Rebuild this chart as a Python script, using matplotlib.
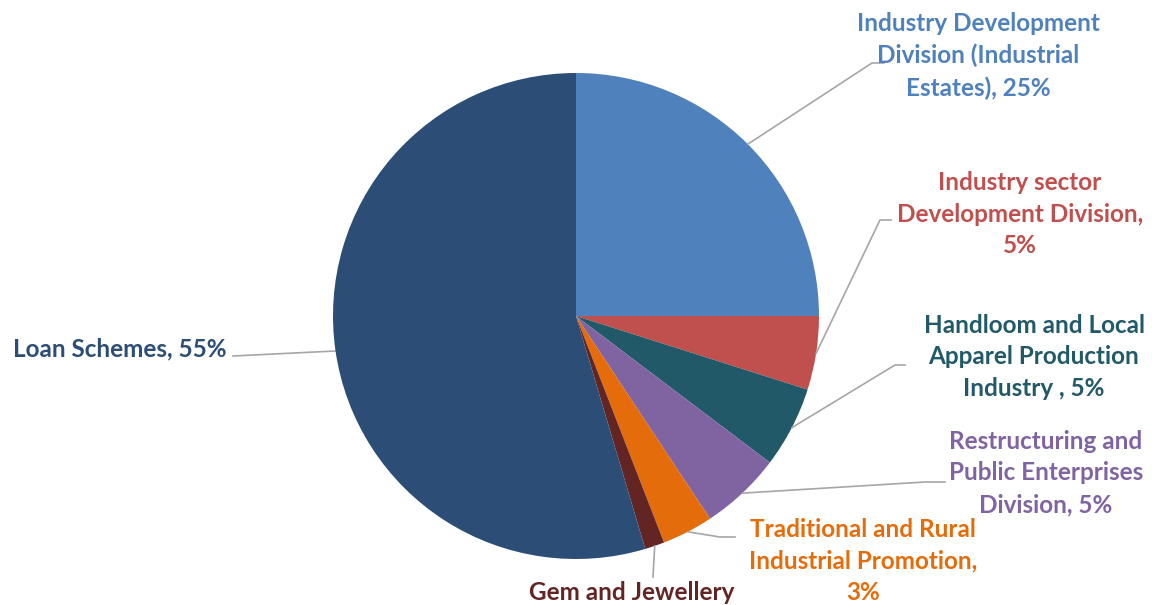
import numpy as np
import matplotlib.pyplot as plt

names = ["Industry Development\nDivision (Industrial\nEstates)",
         "Industry sector\nDevelopment Division",
         "Handloom and Local\nApparel Production\nIndustry ",
         "Restructuring and\nPublic Enterprises\nDivision",
         "Traditional and Rural\nIndustrial Promotion",
         "Gem and Jewellery",
         "Loan Schemes"]
shares = [25.0, 4.9, 5.4, 5.4, 3.4, 1.3, 54.6]
seps = [", ", ",\n", ", ", ", ", ",\n", None, ", "]  # gem's percent falls below the frame
colors = ["#4F81BD", "#C0504D", "#215968", "#8064A2", "#E46C0A", "#632523", "#2C4D75"]

W, H = 1152, 605
fig = plt.figure(figsize=(W / 100, H / 100), dpi=100)
ax = fig.add_axes([0, 0, 1, 1])

cx, cy, r = 576, H - 316, 243
wedges, _ = ax.pie(shares, colors=colors, startangle=90, counterclock=False,
                   center=(cx, cy), radius=r, frame=True,
                   wedgeprops=dict(linewidth=0))
ax.set_xlim(0, W)
ax.set_ylim(0, H)
ax.set_aspect("equal")
ax.axis("off")

# label layout: (elbow x, elbow y, end x, end y, text x, text y) in pixels from top-left
layout = [
    (872, 63, 884, 63, 978, 56),
    (880, 220, 891, 220, 1020, 214),
    (895, 365, 905, 365, 1034, 357),
    (925, 482, 945, 482, 1046, 473),
    (720, 537, 735, 537, 863, 561),
    (653, 577, 653, 577, 632, 593),
    (335, 351, 233, 356, 120, 349),
]

for w, name, v, sep, col, (ex, ey, tx2, ty2, lx, ly) in zip(
        wedges, names, shares, seps, colors, layout):
    mid = np.deg2rad((w.theta1 + w.theta2) / 2)
    px, py = cx + r * np.cos(mid), cy + r * np.sin(mid)
    ax.plot([px, ex, tx2], [py, H - ey, H - ty2], color="#A6A6A6", lw=1.2,
            zorder=0 if name == "Loan Schemes" else 3)
    label = name if sep is None else f"{name}{sep}{round(v)}%"
    ax.text(lx, H - ly, label, color=col, fontsize=17.5,
            fontweight="bold", family="Lato", ha="center", va="center",
            linespacing=1.47, multialignment="center")

fig.savefig("out.png", dpi=100)
